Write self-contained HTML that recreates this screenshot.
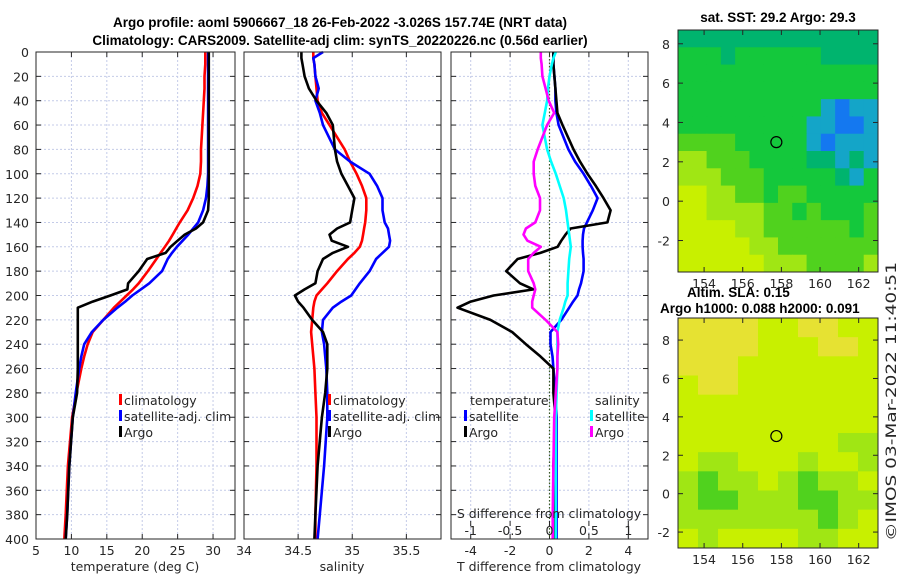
<!DOCTYPE html>
<html><head><meta charset="utf-8"><style>
body{margin:0;background:#fff;width:900px;height:580px;overflow:hidden}
svg{font-family:"DejaVu Sans","Liberation Sans",sans-serif}
.t{font-size:12.5px;fill:#262626}
.b{font-size:13.5px;font-weight:bold;fill:#000;font-family:"Liberation Sans",sans-serif}
</style></head><body>
<svg id="s" width="900" height="580">
<text class="b" x="340" y="27" text-anchor="middle">Argo profile: aoml 5906667_18 26-Feb-2022 -3.026S 157.74E (NRT data)</text>
<text class="b" x="340" y="45" text-anchor="middle">Climatology: CARS2009. Satellite-adj clim: synTS_20220226.nc (0.56d earlier)</text>
<text class="b" x="778" y="22" text-anchor="middle">sat. SST: 29.2 Argo: 29.3</text>
<text class="b" x="687" y="297">Altim. SLA: 0.15</text>
<text class="b" x="660" y="313">Argo h1000: 0.088 h2000: 0.091</text>
<text class="t" style="font-size:14px" text-anchor="start" textLength="279" lengthAdjust="spacingAndGlyphs" transform="translate(896,541) rotate(-90)">©IMOS 03-Mar-2022 11:40:51</text>
</svg>
<script>
const depths=[0,5,10,20,30,40,50,60,80,90,100,110,120,130,140,145,150,155,160,165,170,180,190,195,200,205,210,220,230,240,250,260,280,300,340,380,400];
const tClim=[28.9,28.9,28.9,28.8,28.8,28.7,28.6,28.5,28.3,28.3,28.2,27.8,27.2,26.4,25.3,24.8,24.3,23.8,23.2,22.6,22.0,20.8,19.5,18.7,17.8,16.9,16.0,14.5,13.0,12.3,11.8,11.4,10.7,10.1,9.5,9.2,9.0];
const tSat=[29.3,29.3,29.3,29.3,29.3,29.3,29.3,29.3,29.3,29.3,29.3,29.2,29.0,28.6,27.9,27.2,26.5,25.7,24.9,24.2,23.6,22.8,21.0,19.8,18.6,17.6,16.5,14.5,12.9,11.8,11.4,11.1,10.6,10.2,9.7,9.4,9.2];
const tArgo=[29.4,29.4,29.4,29.4,29.4,29.4,29.4,29.4,29.4,29.4,29.4,29.4,29.4,29.3,28.6,27.6,26.0,25.0,24.0,23.3,20.7,19.5,18.0,17.9,15.5,13.0,10.9,10.9,10.9,10.9,10.9,10.9,10.8,10.2,9.7,9.4,9.2];
const sClim=[34.64,34.64,34.65,34.66,34.67,34.68,34.72,34.79,34.93,34.98,35.04,35.09,35.13,35.13,35.12,35.11,35.10,35.09,35.07,35.02,34.96,34.86,34.77,34.72,34.67,34.65,34.64,34.63,34.62,34.63,34.64,34.65,34.66,34.67,34.67,34.66,34.66];
const sSat=[34.73,34.64,34.65,34.66,34.69,34.66,34.70,34.73,34.84,34.98,35.16,35.23,35.28,35.28,35.30,35.33,35.34,35.35,35.34,35.28,35.22,35.16,35.07,35.03,34.99,34.90,34.82,34.73,34.72,34.74,34.75,34.76,34.77,34.77,34.74,34.70,34.68];
const sArgo=[34.53,34.53,34.54,34.56,34.60,34.67,34.76,34.82,34.84,34.86,34.90,34.96,35.02,35.00,34.98,34.86,34.79,34.81,34.96,34.82,34.73,34.68,34.66,34.56,34.47,34.50,34.55,34.63,34.73,34.77,34.77,34.77,34.75,34.72,34.68,34.66,34.65];
const dTArgo=[0.2,0.2,0.2,0.25,0.3,0.35,0.4,0.66,1.22,1.55,1.93,2.35,2.74,3.1,2.94,1.07,0.81,0.6,0.41,-0.46,-1.62,-2.2,-1.5,-0.81,-2.84,-4.0,-4.67,-3.0,-1.9,-1.2,-0.46,0.2,0.2,0.3,0.2,0.3,0.3];
const dTSat=[0.2,0.2,0.2,0.25,0.3,0.3,0.35,0.46,0.96,1.3,1.73,2.1,2.44,2.2,1.9,1.75,1.7,1.68,1.68,1.7,1.73,1.73,1.6,1.5,1.42,1.2,1.0,0.6,0.05,0.05,0.15,0.2,0.3,0.36,0.36,0.36,0.36];
const dSSat=[0.08,0.05,0.03,0.0,-0.02,-0.03,-0.06,-0.09,-0.03,0.02,0.08,0.13,0.18,0.21,0.23,0.24,0.25,0.26,0.27,0.26,0.25,0.24,0.23,0.23,0.23,0.2,0.18,0.13,0.1,0.1,0.1,0.1,0.09,0.08,0.08,0.08,0.08];
const dSArgo=[-0.11,-0.11,-0.1,-0.09,-0.05,-0.01,0.06,-0.03,-0.15,-0.2,-0.2,-0.18,-0.12,-0.12,-0.18,-0.3,-0.33,-0.28,-0.11,-0.2,-0.27,-0.27,-0.2,-0.18,-0.2,-0.22,-0.22,-0.05,0.1,0.11,0.1,0.1,0.08,0.06,0.05,0.04,0.04];
const depthTicks=[0,20,40,60,80,100,120,140,160,180,200,220,240,260,280,300,320,340,360,380,400];
const tTicks=[5,10,15,20,25,30];
const sTicks=[34,34.5,35,35.5];
const dTTicks=[-4,-2,0,2,4];
const dSTicks=[-1,-0.5,0,0.5,1];
const lonTicks=[154,156,158,160,162];
const latTicks=[-2,0,2,4,6,8];
const palette=['#000','#0a1ec8','#1478f0','#14a5c8','#00b46e','#14c83c','#50d21e','#a0e614','#c8f000','#e6e232'];
const sstGrid=['44444444444444','55545555554444','55555555555555','55555555555555','55555555553233','55555555533223','66665555532333','77666555544343','77766655555435','88776656655555','88777766565556','88887766666656','88888776666666','88888877766667'];
const slaGrid=['9999889988','9999888998','9998888888','8998888888','8888888888','8888888888','8888888877','8778887887','7677876778','7667776677','7777777678','8788887788'];
const argoLon=157.74, argoLat=3.0;

const S=document.getElementById('s'),NS='http://www.w3.org/2000/svg';
function mk(t,a,p){const e=document.createElementNS(NS,t);for(const k in a)e.setAttribute(k,a[k]);(p||S).appendChild(e);return e;}
const Y0=52,Y1=539;const yD=d=>Y0+(Y1-Y0)*d/400;
function lin(d0,d1,r0,r1){return v=>r0+(v-d0)/(d1-d0)*(r1-r0);}
function panel(name,x0,x1,xs,ticks,fmt,showY){
  const g=mk('g',{});
  mk('rect',{x:x0,y:Y0,width:x1-x0,height:Y1-Y0,fill:'#fff'},g);
  ticks.forEach(v=>{const x=xs(v);mk('line',{x1:x,x2:x,y1:Y0,y2:Y1,stroke:'#c4cbe8','stroke-dasharray':'2,2','stroke-width':1},g);
    const l=mk('text',{x:x,y:Y1+16,'text-anchor':'middle',class:'t'},g);l.textContent=fmt(v);
    
    mk('line',{x1:x,x2:x,y1:Y1,y2:Y1-5,stroke:'#262626'},g);mk('line',{x1:x,x2:x,y1:Y0,y2:Y0+5,stroke:'#262626'},g);});
  depthTicks.forEach(d=>{const y=yD(d);mk('line',{x1:x0,x2:x1,y1:y,y2:y,stroke:'#c4cbe8','stroke-dasharray':'2,2'},g);
    mk('line',{x1:x0,x2:x0+5,y1:y,y2:y,stroke:'#262626'},g);mk('line',{x1:x1-5,x2:x1,y1:y,y2:y,stroke:'#262626'},g);
    if(showY){const l=mk('text',{x:x0-7,y:y+5,'text-anchor':'end',class:'t'},g);l.textContent=d;
      }});
  return g;}
function line(g,xs,vals,col,name){const p=vals.map((v,i)=>xs(v).toFixed(1)+','+yD(depths[i]).toFixed(1)).join(' ');
  const e=mk('polyline',{points:p,fill:'none',stroke:col,'stroke-width':2.6,'stroke-linejoin':'round'},g);
  }
function frame(g,x0,x1){mk('rect',{x:x0,y:Y0,width:x1-x0,height:Y1-Y0,fill:'none',stroke:'#262626','stroke-width':1},g);}
function txt(g,x,y,s,name,anchor){const e=mk('text',{x:x,y:y,class:'t','text-anchor':anchor||'start'},g);e.textContent=s;
  return e;}
function leg(g,x,y,col,s,name){mk('rect',{x:x,y:y-11,width:3,height:11,fill:col},g);txt(g,x+5,y,s,name);}

const xT=lin(5,33.1,36,235);
let g=panel('temperature-panel',36,235,xT,tTicks,v=>v,true);
line(g,xT,tClim,'#f00','temp-climatology-line');line(g,xT,tSat,'#00f','temp-satellite-line');line(g,xT,tArgo,'#000','temp-argo-line');
leg(g,119,405,'#f00','climatology','legend-climatology');leg(g,119,421,'#00f','satellite-adj. clim','legend-satellite');leg(g,119,437,'#000','Argo','legend-argo');
frame(g,36,235);txt(g,135,571,'temperature (deg C)','temperature-axis-title','middle');
const xS=lin(34,35.82,244,441);
g=panel('salinity-panel',244,441,xS,sTicks,v=>v,false);
line(g,xS,sClim,'#f00','sal-climatology-line');line(g,xS,sSat,'#00f','sal-satellite-line');line(g,xS,sArgo,'#000','sal-argo-line');
leg(g,328,405,'#f00','climatology','legend-climatology');leg(g,328,421,'#00f','satellite-adj. clim','legend-satellite');leg(g,328,437,'#000','Argo','legend-argo');
frame(g,244,441);txt(g,342,571,'salinity','salinity-axis-title','middle');
const xdT=lin(-5,5,451,648),xdS=lin(-1.25,1.25,451,648);
g=panel('difference-panel',451,648,xdT,dTTicks,v=>v,false);
mk('line',{x1:xdT(0),x2:xdT(0),y1:Y0,y2:Y1,stroke:'#3a5a20','stroke-dasharray':'1.5,2','stroke-width':1.2},g);
line(g,xdT,dTSat,'#00f','dT-satellite-line');line(g,xdT,dTArgo,'#000','dT-argo-line');
line(g,xdS,dSSat,'#0ff','dS-satellite-line');line(g,xdS,dSArgo,'#f0f','dS-argo-line');
txt(g,470,405,'temperature','legend-temperature-header');txt(g,595,405,'salinity','legend-salinity-header');
leg(g,464,421,'#00f','satellite','legend-t-satellite');leg(g,464,437,'#000','Argo','legend-t-argo');
leg(g,590,421,'#0ff','satellite','legend-s-satellite');leg(g,590,437,'#f0f','Argo','legend-s-argo');
txt(g,549,518,'S difference from climatology','s-axis-title','middle');
dSTicks.forEach(v=>{txt(g,xdS(v),535,String(v),'s-tick-label','middle');mk('line',{x1:xdS(v),x2:xdS(v),y1:521,y2:526,stroke:'#262626'},g);});
frame(g,451,648);txt(g,549,571,'T difference from climatology','t-axis-title','middle');

function map(name,grid,y0,y1,latTop,latBot){
  const mg=mk('g',{});
  const X0=678,X1=878,xl=lin(152.65,163,X0,X1),yl=lin(latTop,latBot,y0,y1);
  const rows=grid.length,cols=grid[0].length,cw=(X1-X0)/cols,ch=(y1-y0)/rows;
  grid.forEach((r,i)=>{for(let j=0;j<cols;j++){const c=mk('rect',{x:X0+j*cw,y:y0+i*ch,width:cw+0.5,height:ch+0.5,fill:palette[+r[j]]},mg);
    }});
  lonTicks.forEach(v=>{const x=xl(v);mk('line',{x1:x,x2:x,y1:y1,y2:y1-5,stroke:'#262626'},mg);mk('line',{x1:x,x2:x,y1:y0,y2:y0+5,stroke:'#262626'},mg);txt(mg,x,y1+16,String(v),'lon-tick-label','middle');});
  latTicks.forEach(v=>{const y=yl(v);mk('line',{x1:X0,x2:X0+5,y1:y,y2:y,stroke:'#262626'},mg);mk('line',{x1:X1-5,x2:X1,y1:y,y2:y,stroke:'#262626'},mg);txt(mg,X0-8,y+5,String(v),'lat-tick-label','end');});
  const c=mk('circle',{cx:xl(argoLon),cy:yl(argoLat),r:5.5,fill:'none',stroke:'#000','stroke-width':1.2},mg);
  
  mk('rect',{x:X0,y:y0,width:X1-X0,height:y1-y0,fill:'none',stroke:'#262626'},mg);}
map('sst-map',sstGrid,30,272,8.7,-3.6);
map('sla-map',slaGrid,318,548,9.15,-2.83);
</script>
</body></html>
